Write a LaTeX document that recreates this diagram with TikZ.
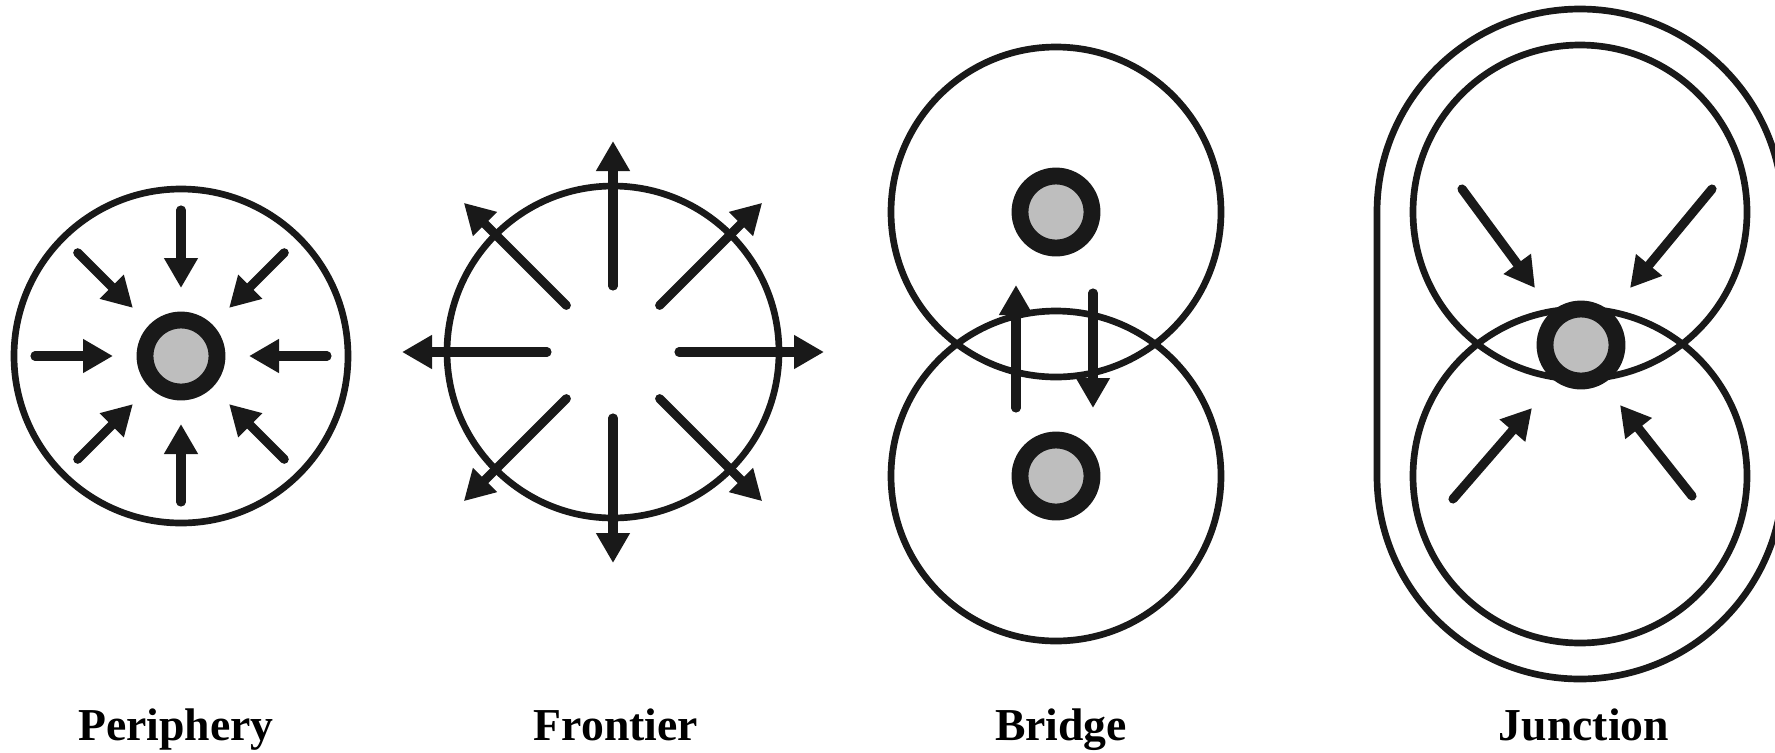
\documentclass[tikz,border=0pt]{standalone}
\usepackage{fontspec}
\setmainfont{Liberation Serif}
\usepackage{tikz}
\usetikzlibrary{arrows.meta}
\definecolor{nucgray}{RGB}{190,190,190}

\begin{document}
\begin{tikzpicture}[
  ring/.style={draw=black!90,line width=1.9pt},
  flow/.style={-{Triangle[length=3mm,width=3.2mm]},line width=2.6pt,line cap=round,black!90},
  nucleus/.style={circle,draw=black!90,line width=4.8pt,fill=nucgray,minimum size=0.72cm,inner sep=0pt},
  lab/.style={anchor=base,font=\bfseries\fontsize{13}{15}\selectfont}]
  \useasboundingbox (0,0) rectangle (17.75,7.52);
  % periphery
  \coordinate (pc) at (1.81,3.96);
  \draw[ring] (pc) circle (1.67);
  \node[nucleus] (pn) at (pc) {};
  \foreach \a in {0,45,...,315}
    \draw[flow,shift={(pc)}] (\a:1.46) -- (\a:0.68);
  % frontier
  \coordinate (fc) at (6.13,4.00);
  \draw[ring] (fc) circle (1.66);
  \foreach \a in {0,45,...,315}
    \draw[flow,shift={(fc)}] (\a:0.66) -- (\a:2.11);
  % bridge
  \coordinate (bt) at (10.56,5.40);
  \coordinate (bb) at (10.56,2.76);
  \draw[ring] (bt) circle (1.65);
  \draw[ring] (bb) circle (1.65);
  \node[nucleus] (bnt) at (bt) {};
  \node[nucleus] (bnb) at (bb) {};
  \coordinate (bu1) at (10.16,3.44);
  \coordinate (bu2) at (10.16,4.67);
  \coordinate (bd1) at (10.93,4.59);
  \coordinate (bd2) at (10.93,3.44);
  \draw[flow] (bu1) -- (bu2);
  \draw[flow] (bd1) -- (bd2);
  % junction
  \coordinate (jt) at (15.80,5.40);
  \coordinate (jb) at (15.80,2.76);
  \draw[ring] (13.77,2.76) -- (13.77,5.40) arc[start angle=180,end angle=0,radius=2.03]
    -- (17.83,2.76) arc[start angle=0,end angle=-180,radius=2.03] -- cycle;
  \draw[ring] (jt) circle (1.67);
  \draw[ring] (jb) circle (1.67);
  \node[nucleus] (jn) at (15.81,4.07) {};
  \draw[flow] (14.62,5.63) -- (15.35,4.64);
  \draw[flow] (17.12,5.63) -- (16.30,4.64);
  \draw[flow] (14.53,2.53) -- (15.32,3.44);
  \draw[flow] (16.92,2.56) -- (16.20,3.47);
  % labels
  \node[lab] (lp) at (1.76,0.12) {Periphery};
  \node[lab] (lf) at (6.16,0.12) {Frontier};
  \node[lab] (lb) at (10.61,0.12) {Bridge};
  \node[lab] (lj) at (15.84,0.12) {Junction};
\end{tikzpicture}
\end{document}
